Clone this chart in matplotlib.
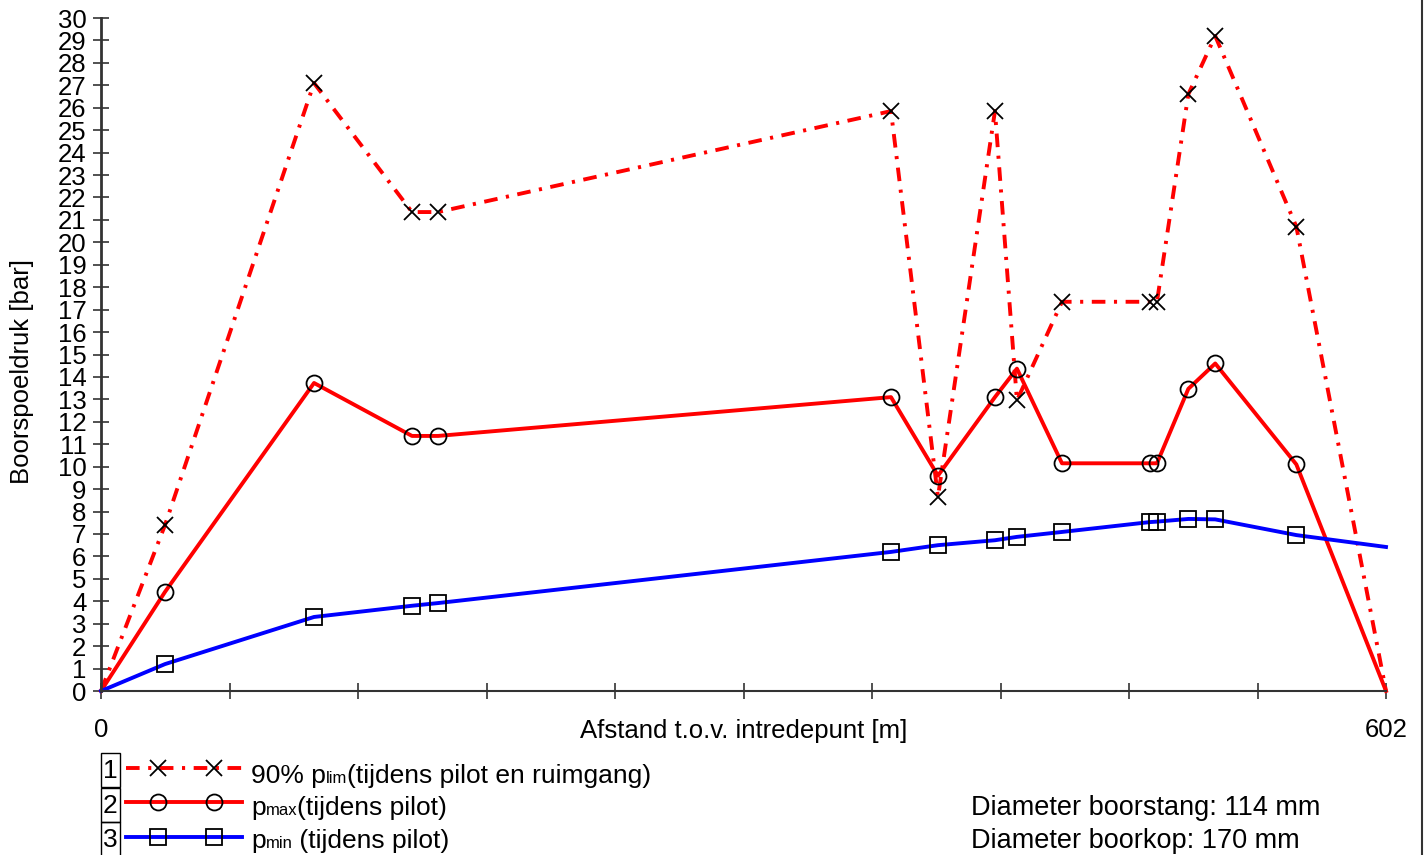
import numpy as np
import matplotlib.pyplot as plt
from matplotlib.lines import Line2D
from matplotlib.patches import Rectangle

plt.rcParams['font.family'] = ['Liberation Sans', 'DejaVu Sans']

# afstand t.o.v. intredepunt [m] en drukken [bar]
afstand = [0, 30.0, 99.8, 145.7, 157.9, 370.1, 392.1, 418.8, 429.1, 450.2,
           491.4, 494.7, 509.4, 522.0, 560.0, 602]
p_lim90 = [0, 7.4, 27.1, 21.35, 21.35, 25.85, 8.65, 25.85, 12.95, 17.35,
           17.35, 17.35, 26.6, 29.2, 20.7, 0]
p_max = [0, 4.42, 13.73, 11.37, 11.37, 13.1, 9.6, 13.1, 14.37, 10.15,
         10.15, 10.15, 13.47, 14.6, 10.1, 0]
p_min = [0, 1.2, 3.3, 3.8, 3.92, 6.2, 6.5, 6.72, 6.87, 7.09,
         7.53, 7.55, 7.67, 7.65, 6.95, 6.42]

x_ticks = np.linspace(0, 602, 11)
x_ticklabels = ['0'] + [''] * 9 + ['602']
y_ticks = list(range(0, 31))

legend_nrs = ['1', '2', '3']
legend_parts = [
    [('90% p', 19), ('lim', 12), ('(tijdens pilot en ruimgang)', 19)],
    [('p', 19), ('max', 12), ('(tijdens pilot)', 19)],
    [('p', 19), ('min', 12), (' (tijdens pilot)', 19)],
]
info_lines = ['Diameter boorstang: 114 mm', 'Diameter boorkop: 170 mm']

W, H = 1426, 855
fig = plt.figure(figsize=(W / 100, H / 100), dpi=100)
ax = fig.add_axes([101 / W, 1 - 691 / H, 1285 / W, 673 / H])


def fx(px):
    return px / W


def fy(py):
    return 1 - py / H


dash = (0, (3.5, 2.2, 0.8, 2.2))
series = [
    (p_lim90, 'red', dash, 'x'),
    (p_max, 'red', '-', 'o'),
    (p_min, 'blue', '-', 's'),
]
for vals, kleur, ls, mk in series:
    ax.plot(afstand, vals, color=kleur, ls=ls, lw=2.8, zorder=2, clip_on=False)
    ax.plot(afstand[1:-1], vals[1:-1], ls='none', marker=mk, ms=11.5,
            mfc='none', mec='black', mew=1.3, zorder=3, clip_on=False)

ax.set_xlim(0, 602)
ax.set_ylim(0, 30)
ax.set_xticks(x_ticks)
ax.set_xticklabels(x_ticklabels)
ax.set_yticks(y_ticks)
ax.set_yticklabels([str(v) for v in y_ticks])
ax.tick_params(axis='both', direction='inout', length=11, width=1.2,
               color='#333333', labelsize=18.5)
ax.tick_params(axis='y', pad=5)
ax.tick_params(axis='x', pad=14)
for s in ['top', 'right']:
    ax.spines[s].set_visible(False)
ax.spines['left'].set_color('#333333')
ax.spines['left'].set_linewidth(2)
ax.spines['bottom'].set_color('#333333')
ax.spines['bottom'].set_linewidth(1.5)

ax.set_xlabel('Afstand t.o.v. intredepunt [m]', fontsize=18.5, va='center')
ax.xaxis.set_label_coords(0.5, -0.0594)
ax.set_ylabel('Boorspoeldruk [bar]', fontsize=18.5, va='center')
ax.yaxis.set_label_coords(-0.0615, 0.474)

# legenda onder de grafiek
renderer = fig.canvas.get_renderer()
box_top = [753, 788, 822]
line_y = [768, 802, 837]
base_y = [783, 815, 848]
for i in range(3):
    fig.add_artist(Rectangle((fx(101), fy(box_top[i] + 34)), 19 / W, 34 / H,
                             transform=fig.transFigure, fill=False,
                             ec='black', lw=1))
    fig.text(fx(110.5), fy(box_top[i] + 18), legend_nrs[i], fontsize=19,
             ha='center', va='center')
    vals, kleur, ls, mk = series[i]
    fig.add_artist(Line2D([fx(126), fx(242)], [fy(line_y[i])] * 2,
                          transform=fig.transFigure, color=kleur, ls=ls, lw=2.8))
    fig.add_artist(Line2D([fx(158), fx(214)], [fy(line_y[i])] * 2,
                          transform=fig.transFigure, ls='none', marker=mk,
                          ms=11.5, mfc='none', mec='black', mew=1.3))
    x = 251
    for tekst, size in legend_parts[i]:
        t = fig.text(fx(x), fy(base_y[i]), tekst, fontsize=size, va='baseline')
        x += t.get_window_extent(renderer=renderer).width

for j, tekst in enumerate(info_lines):
    fig.text(fx(971), fy([815, 848][j]), tekst, fontsize=19.5, va='baseline')

fig.add_artist(Line2D([fx(1422)] * 2, [0, 1], transform=fig.transFigure,
                      color='#333333', lw=1.5))

fig.savefig('out.png', dpi=100)
